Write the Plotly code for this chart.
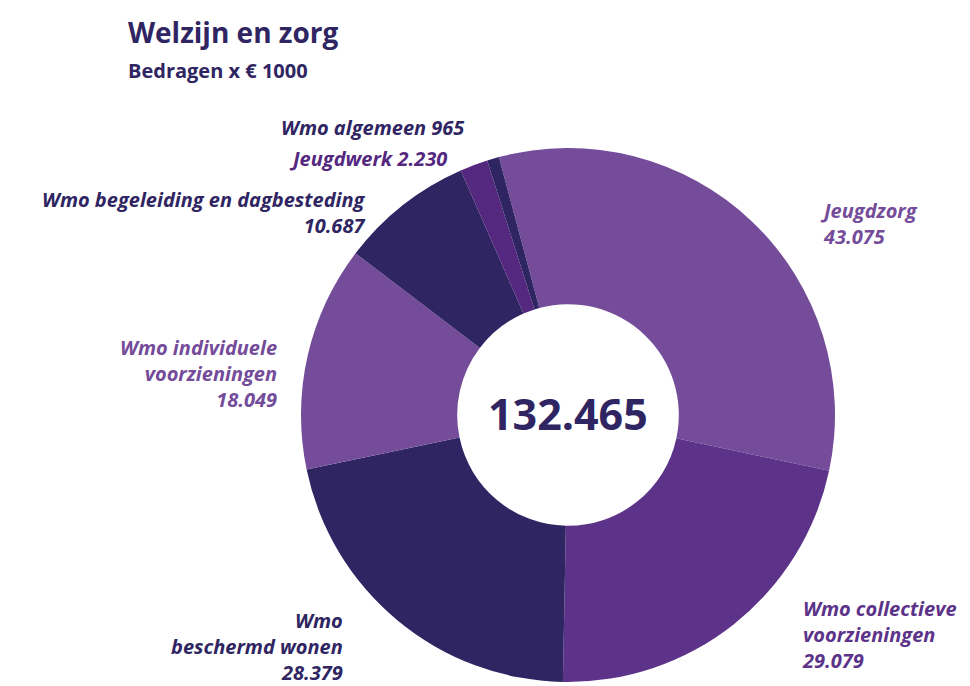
import plotly.graph_objects as go

# ---- data ----
categories = [
    "Jeugdzorg",
    "Wmo collectieve voorzieningen",
    "Wmo beschermd wonen",
    "Wmo individuele voorzieningen",
    "Wmo begeleiding en dagbesteding",
    "Jeugdwerk",
    "Wmo algemeen",
]
values = [43075, 29079, 28379, 18049, 10687, 2230, 965]
label_lines = [
    ["Jeugdzorg"],
    ["Wmo collectieve", "voorzieningen"],
    ["Wmo", "beschermd wonen"],
    ["Wmo individuele", "voorzieningen"],
    ["Wmo begeleiding en dagbesteding"],
    ["Jeugdwerk"],
    ["Wmo algemeen"],
]
value_on_same_line = [False, False, False, False, False, True, True]
total_value = 132465
title_text = "Welzijn en zorg"
subtitle_text = "Bedragen x € 1000"

# ---- style ----
LIGHT = "#744C9A"
MID = "#5C3389"
DARK = "#2F2562"
JW = "#55287F"
slice_colors = [LIGHT, MID, DARK, LIGHT, DARK, JW, DARK]
text_colors = [LIGHT, MID, DARK, LIGHT, DARK, JW, DARK]

W, H = 970, 686
FONT = "Open Sans"


def nl(n):
    return f"{n:,}".replace(",", ".")


def px(x):
    return x / W


def py(y):
    return 1 - y / H


cx, cy, r = 568, 415, 267

fig = go.Figure()
fig.add_trace(go.Pie(
    labels=categories,
    values=values,
    sort=False,
    direction="clockwise",
    rotation=-15,
    hole=0.415,
    marker=dict(colors=slice_colors, line=dict(width=0)),
    textinfo="none",
    hoverinfo="label+value",
    showlegend=False,
    domain=dict(x=[px(cx - r), px(cx + r)], y=[py(cy + r), py(cy - r)]),
))

# label placements: (anchor x px, center y px of block, xanchor)
placements = [
    (818, 223, "left"),
    (800, 634, "left"),
    (345, 646, "right"),
    (279, 373, "right"),
    (368, 212, "right"),
    (449, 158, "right"),
    (467, 127, "right"),
]

annotations = []
for lines, v, same, col, (ax, ay, xa) in zip(label_lines, values, value_on_same_line,
                                              text_colors, placements):
    if same:
        txt = "<br>".join(lines[:-1] + [lines[-1] + " " + nl(v)])
    else:
        txt = "<br>".join(lines + [nl(v)])
    annotations.append(dict(
        x=px(ax), y=py(ay), xref="paper", yref="paper",
        xanchor=xa, yanchor="middle", align=xa,
        text="<b><i>" + txt + "</i></b>", showarrow=False,
        font=dict(family=FONT, size=20, color=col),
    ))

annotations.append(dict(
    x=px(cx), y=py(413), xref="paper", yref="paper",
    xanchor="center", yanchor="middle",
    text="<b>" + nl(total_value) + "</b>", showarrow=False,
    font=dict(family=FONT, size=43, color=DARK),
))
annotations.append(dict(
    x=px(126), y=py(32), xref="paper", yref="paper",
    xanchor="left", yanchor="middle",
    text="<b>" + title_text + "</b>", showarrow=False,
    font=dict(family=FONT, size=28, color=DARK),
))
annotations.append(dict(
    x=px(126), y=py(71), xref="paper", yref="paper",
    xanchor="left", yanchor="middle",
    text="<b>" + subtitle_text + "</b>", showarrow=False,
    font=dict(family=FONT, size=20, color=DARK),
))

fig.update_layout(
    width=W, height=H,
    margin=dict(l=0, r=0, t=0, b=0),
    paper_bgcolor="white",
    plot_bgcolor="white",
    annotations=annotations,
)

fig.write_html(
    "out.html",
    config={"displayModeBar": False},
    post_script="document.body.style.margin='0';document.body.style.padding='0';",
)
